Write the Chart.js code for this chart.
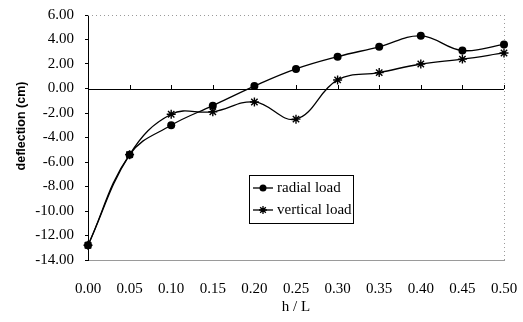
<!DOCTYPE html>
<html>
<head>
<meta charset="utf-8">
<script src="https://cdn.jsdelivr.net/npm/chart.js@4/dist/chart.umd.min.js"></script>
<style>
  html, body { margin: 0; padding: 0; background: #fff; }
  #wrap { width: 523px; height: 322px; }
</style>
</head>
<body>
<div id="wrap"><canvas id="chart" width="523" height="322"></canvas></div>
<script>
// valores
const categorias = ['0.00', '0.05', '0.10', '0.15', '0.20', '0.25', '0.30', '0.35', '0.40', '0.45', '0.50'];
const cargaRadial = [-12.8, -5.4, -3.0, -1.4, 0.2, 1.6, 2.6, 3.4, 4.3, 3.1, 3.6];
const cargaVertical = [-12.8, -5.4, -2.1, -1.9, -1.1, -2.5, 0.7, 1.3, 2.0, 2.4, 2.9];
const nomesSeries = ['radial load', 'vertical load'];
const tituloY = 'deflection (cm)';

const fonteSerif = '"Liberation Serif", "DejaVu Serif", serif';

// moldura pontilhada, linha do zero com tracinhos, título do eixo y e legenda
const molduraPlugin = {
    id: 'moldura',
    beforeDatasetsDraw(chart) {
        const { ctx, chartArea: a, scales } = chart;
        const y0 = scales.y.getPixelForValue(0);
        ctx.save();
        ctx.strokeStyle = '#9a9a9a';
        ctx.lineWidth = 1;
        ctx.setLineDash([1, 3]);
        ctx.beginPath();
        ctx.moveTo(a.left, a.top + 0.5);
        ctx.lineTo(a.right, a.top + 0.5);
        ctx.moveTo(a.right + 0.5, a.top);
        ctx.lineTo(a.right + 0.5, a.bottom);
        ctx.stroke();
        ctx.setLineDash([]);
        ctx.strokeStyle = '#000';
        ctx.beginPath();
        ctx.moveTo(a.left, Math.round(y0) + 0.5);
        ctx.lineTo(a.right, Math.round(y0) + 0.5);
        categorias.forEach((c, i) => {
            const x = Math.round(scales.x.getPixelForValue(i)) + 0.5;
            ctx.moveTo(x, Math.round(y0));
            ctx.lineTo(x, Math.round(y0) - 4);
        });
        ctx.stroke();

        // título do eixo y (um pouco acima do centro, como no original)
        ctx.save();
        ctx.translate(22, a.top + 111);
        ctx.rotate(-Math.PI / 2);
        ctx.font = 'bold 12.5px "Liberation Sans", Arial, sans-serif';
        ctx.fillStyle = '#000';
        ctx.textAlign = 'center';
        ctx.textBaseline = 'middle';
        ctx.fillText(tituloY, 0, 0);
        ctx.restore();
        ctx.restore();
    },
    afterDraw(chart) {
        const { ctx, chartArea: a } = chart;
        const bx = a.left + 161, by = a.top + 160, bw = 104, bh = 48;
        ctx.save();
        ctx.fillStyle = '#fff';
        ctx.fillRect(bx, by, bw, bh);
        ctx.strokeStyle = '#000';
        ctx.lineWidth = 1;
        ctx.strokeRect(bx + 0.5, by + 0.5, bw, bh);
        ctx.font = '15px ' + fonteSerif;
        ctx.textBaseline = 'middle';
        ctx.fillStyle = '#000';
        chart.data.datasets.forEach((ds, i) => {
            const cy = by + 13 + i * 22;
            ctx.beginPath();
            ctx.moveTo(bx + 4, cy);
            ctx.lineTo(bx + 24, cy);
            ctx.lineWidth = 1.3;
            ctx.stroke();
            if (i === 0) {
                ctx.beginPath();
                ctx.arc(bx + 14, cy, 3.5, 0, Math.PI * 2);
                ctx.fill();
            } else {
                ctx.beginPath();
                const r = 4;
                for (let k = 0; k < 4; k++) {
                    const ang = k * Math.PI / 4;
                    ctx.moveTo(bx + 14 - r * Math.cos(ang), cy - r * Math.sin(ang));
                    ctx.lineTo(bx + 14 + r * Math.cos(ang), cy + r * Math.sin(ang));
                }
                ctx.stroke();
            }
            ctx.fillText(ds.label, bx + 28, cy);
        });
        ctx.restore();
    }
};

const ctx = document.getElementById('chart').getContext('2d');
new Chart(ctx, {
    type: 'line',
    data: {
        labels: categorias,
        datasets: [
            {
                label: nomesSeries[0],
                data: cargaRadial,
                borderColor: '#000',
                backgroundColor: '#000',
                borderWidth: 1.3,
                pointStyle: 'circle',
                pointRadius: 4,
                pointBorderWidth: 0,
                tension: 0.4
            },
            {
                label: nomesSeries[1],
                data: cargaVertical,
                borderColor: '#000',
                backgroundColor: '#000',
                borderWidth: 1.3,
                pointStyle: 'star',
                pointRadius: 4.5,
                pointBorderWidth: 1.4,
                tension: 0.4
            }
        ]
    },
    options: {
        responsive: false,
        animation: false,
        layout: { padding: { top: 15, right: 19, bottom: 6, left: 0 } },
        plugins: {
            legend: { display: false },
            tooltip: { enabled: false }
        },
        scales: {
            x: {
                offset: false,
                grid: { display: false, drawTicks: false },
                border: { display: true, color: '#9a9a9a', dash: [1, 3] },
                ticks: {
                    color: '#000',
                    padding: 20,
                    maxRotation: 0,
                    font: { family: fonteSerif, size: 15 }
                },
                title: {
                    display: true,
                    text: 'h / L',
                    color: '#000',
                    padding: { top: 4, bottom: 0 },
                    font: { family: fonteSerif, size: 15 }
                },
                afterFit(scale) {
                    scale.height = 56;
                    scale.paddingLeft = 0;
                    scale.paddingRight = 0;
                }
            },
            y: {
                min: -14,
                max: 6,
                grid: {
                    drawOnChartArea: false,
                    drawTicks: true,
                    tickLength: 3,
                    color: '#000'
                },
                border: { display: true, color: '#000', width: 1 },
                ticks: {
                    stepSize: 2,
                    color: '#000',
                    padding: 11,
                    font: { family: fonteSerif, size: 15 },
                    callback: v => Number(v).toFixed(2)
                },
                afterFit(scale) {
                    scale.width = 88;
                    scale.paddingTop = 0;
                    scale.paddingBottom = 0;
                }
            }
        }
    },
    plugins: [molduraPlugin]
});
</script>
</body>
</html>
